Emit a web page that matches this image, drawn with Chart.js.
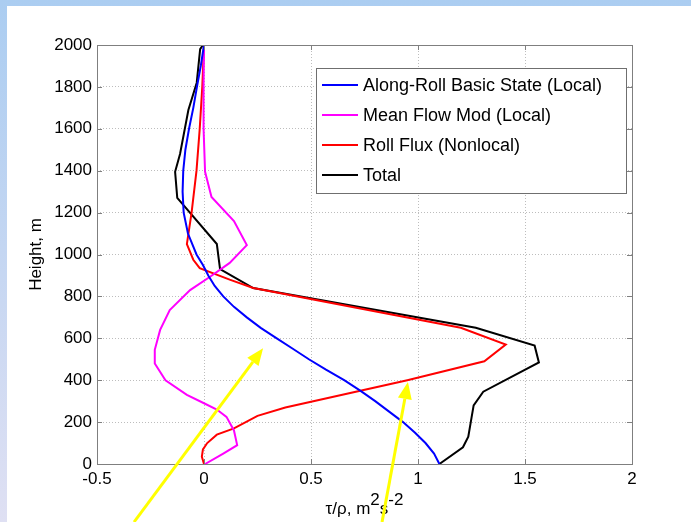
<!DOCTYPE html>
<html>
<head>
<meta charset="utf-8">
<title>Momentum flux profiles</title>
<script src="https://cdn.jsdelivr.net/npm/chart.js@4.4.1/dist/chart.umd.min.js"></script>
<style>
    html, body { margin: 0; padding: 0; width: 691px; height: 522px; overflow: hidden; }
    body { background: linear-gradient(to bottom, #abcdf1, #dfe0f3); position: relative; }
    .sheet { position: absolute; left: 7px; top: 6px; right: 0; bottom: 0; background: #ffffff; }
    #fluxChart { position: absolute; left: 0; top: 0; }
</style>
</head>
<body>
<div class="sheet"></div>
<canvas id="fluxChart" width="691" height="522"></canvas>

<script>
// 1. Profile data (tau/rho in m^2 s^-2 against height in m)
const xTicks = [-0.5, 0, 0.5, 1, 1.5, 2];
const yTicks = [0, 200, 400, 600, 800, 1000, 1200, 1400, 1600, 1800, 2000];

// 1.1 Along-Roll Basic State (Local)
const basicH = [0, 50, 100, 150, 200, 250, 300, 350, 400, 450, 500, 550, 600, 650, 700, 750, 800, 850, 900, 950, 1000, 1100, 1200, 1300, 1400, 1500, 1600, 1700, 1800, 1900, 2000];
const basicX = [1.10, 1.075, 1.035, 0.985, 0.93, 0.865, 0.80, 0.73, 0.655, 0.57, 0.49, 0.415, 0.34, 0.265, 0.20, 0.14, 0.09, 0.05, 0.02, -0.005, -0.035, -0.075, -0.095, -0.10, -0.097, -0.087, -0.07, -0.05, -0.033, -0.015, 0.0];

// 1.2 Mean Flow Mod (Local)
const meanH = [0, 50, 90, 160, 225, 260, 290, 330, 400, 480, 545, 640, 735, 830, 895, 960, 1045, 1160, 1275, 1395, 1600, 1800, 2000];
const meanX = [0.005, 0.09, 0.155, 0.14, 0.105, 0.06, 0.0, -0.08, -0.18, -0.23, -0.23, -0.205, -0.16, -0.065, 0.03, 0.12, 0.20, 0.14, 0.035, 0.005, -0.002, -0.002, 0.0];

// 1.3 Roll Flux (Nonlocal)
const rollH = [0, 35, 70, 100, 140, 170, 230, 270, 400, 490, 570, 650, 840, 880, 935, 975, 1050, 1200, 1400, 1600, 1800, 2000];
const rollX = [0.0, -0.01, -0.005, 0.015, 0.06, 0.14, 0.25, 0.38, 0.95, 1.31, 1.41, 1.20, 0.23, 0.12, -0.02, -0.05, -0.08, -0.058, -0.035, -0.02, -0.008, 0.0];

// 1.4 Total
const totalH = [0, 80, 130, 220, 280, 345, 485, 565, 650, 840, 930, 1050, 1270, 1395, 1480, 1690, 1820, 1980, 2000];
const totalX = [1.10, 1.21, 1.235, 1.25, 1.26, 1.305, 1.565, 1.545, 1.27, 0.23, 0.075, 0.06, -0.125, -0.135, -0.112, -0.073, -0.034, -0.018, -0.005];

// 1.5 yellow pointer arrows, [tailX, tailH, tipX, tipH] in data units
const pointerArrows = [
    [-0.327, -277, 0.276, 553],
    [0.832, -277, 0.953, 391]
];

const FONT = '"Liberation Sans", Arial, Helvetica, sans-serif';

// 2. Helper: zip heights and values into scatter points
function toPoints(heights, values) {
    return heights.map((h, i) => ({ x: values[i], y: h }));
}

// 3. Plugin: axes box, inward ticks, legend, titles and arrows
const decorPlugin = {
    id: 'decor',
    afterDraw(chart) {
        const ctx = chart.ctx;
        const area = chart.chartArea;
        const xs = chart.scales.x;
        const ys = chart.scales.y;

        ctx.save();

        // 3.1 axes box
        ctx.strokeStyle = '#7f7f7f';
        ctx.lineWidth = 1;
        ctx.strokeRect(Math.round(area.left) + 0.5, Math.round(area.top) + 0.5,
            Math.round(area.right - area.left), Math.round(area.bottom - area.top));

        // 3.2 inward tick marks on all four sides
        ctx.beginPath();
        xTicks.forEach(v => {
            const px = Math.round(xs.getPixelForValue(v)) + 0.5;
            ctx.moveTo(px, area.bottom); ctx.lineTo(px, area.bottom - 5);
            ctx.moveTo(px, area.top); ctx.lineTo(px, area.top + 5);
        });
        yTicks.forEach(v => {
            const py = Math.round(ys.getPixelForValue(v)) + 0.5;
            ctx.moveTo(area.left, py); ctx.lineTo(area.left + 5, py);
            ctx.moveTo(area.right, py); ctx.lineTo(area.right - 5, py);
        });
        ctx.stroke();

        // 3.3 legend box
        const lx = 316, ly = 68, lw = 310, lh = 125;
        ctx.fillStyle = '#ffffff';
        ctx.fillRect(lx, ly, lw, lh);
        ctx.strokeStyle = '#6f6f6f';
        ctx.strokeRect(lx + 0.5, ly + 0.5, lw, lh);
        ctx.font = '18px ' + FONT;
        ctx.textBaseline = 'middle';
        ctx.textAlign = 'left';
        chart.data.datasets.forEach((ds, i) => {
            const rowY = ly + 17 + i * 30;
            ctx.strokeStyle = ds.borderColor;
            ctx.lineWidth = 2;
            ctx.beginPath();
            ctx.moveTo(lx + 6, rowY);
            ctx.lineTo(lx + 42, rowY);
            ctx.stroke();
            ctx.fillStyle = '#000000';
            ctx.fillText(ds.label, lx + 47, rowY + 1);
        });

        // 3.4 y axis title
        ctx.fillStyle = '#000000';
        ctx.font = '17px ' + FONT;
        ctx.save();
        ctx.translate(36, (area.top + area.bottom) / 2);
        ctx.rotate(-Math.PI / 2);
        ctx.textAlign = 'center';
        ctx.textBaseline = 'middle';
        ctx.fillText('Height, m', 0, 0);
        ctx.restore();

        // 3.5 x axis title with superscripts
        const parts = [['τ/ρ, m', 0], ['2', -9], ['s', 0], ['-2', -9]];
        ctx.textAlign = 'left';
        ctx.textBaseline = 'alphabetic';
        const total = parts.reduce((s, p) => s + ctx.measureText(p[0]).width, 0);
        let tx = (area.left + area.right) / 2 - total / 2;
        parts.forEach(p => {
            ctx.fillText(p[0], tx, 514 + p[1]);
            tx += ctx.measureText(p[0]).width;
        });

        // 3.6 yellow arrows
        ctx.strokeStyle = '#ffff00';
        ctx.fillStyle = '#ffff00';
        ctx.lineWidth = 3;
        pointerArrows.forEach(a => {
            const x0 = xs.getPixelForValue(a[0]), y0 = ys.getPixelForValue(a[1]);
            const x1 = xs.getPixelForValue(a[2]), y1 = ys.getPixelForValue(a[3]);
            const ang = Math.atan2(y1 - y0, x1 - x0);
            const headLen = 17, headHalf = 7;
            const bx = x1 - headLen * Math.cos(ang), by = y1 - headLen * Math.sin(ang);
            ctx.beginPath();
            ctx.moveTo(x0, y0);
            ctx.lineTo(bx, by);
            ctx.stroke();
            ctx.beginPath();
            ctx.moveTo(x1, y1);
            ctx.lineTo(bx + headHalf * Math.sin(ang), by - headHalf * Math.cos(ang));
            ctx.lineTo(bx - headHalf * Math.sin(ang), by + headHalf * Math.cos(ang));
            ctx.closePath();
            ctx.fill();
        });

        ctx.restore();
    }
};

// 4. Build the chart
const ctx = document.getElementById('fluxChart').getContext('2d');

new Chart(ctx, {
    type: 'scatter',
    data: {
        datasets: [
            { label: 'Along-Roll Basic State (Local)', data: toPoints(basicH, basicX), borderColor: '#0000ff' },
            { label: 'Mean Flow Mod (Local)', data: toPoints(meanH, meanX), borderColor: '#ff00ff' },
            { label: 'Roll Flux (Nonlocal)', data: toPoints(rollH, rollX), borderColor: '#ff0000' },
            { label: 'Total', data: toPoints(totalH, totalX), borderColor: '#000000' }
        ].map(ds => Object.assign(ds, {
            showLine: true,
            borderWidth: 2,
            pointRadius: 0,
            pointHoverRadius: 0,
            tension: 0,
            fill: false
        }))
    },
    options: {
        responsive: false,
        animation: false,
        devicePixelRatio: 1,
        layout: { padding: { left: 0, top: 45, right: 59, bottom: 0 } },
        plugins: {
            legend: { display: false },
            tooltip: { enabled: false }
        },
        scales: {
            x: {
                type: 'linear',
                min: -0.5,
                max: 2,
                afterBuildTicks: scale => { scale.ticks = xTicks.map(v => ({ value: v })); },
                afterFit: scale => { scale.height = 58; },
                ticks: {
                    color: '#000000',
                    padding: 5,
                    maxRotation: 0,
                    font: { family: FONT, size: 17 },
                    callback: v => String(v)
                },
                grid: {
                    color: ctx => (ctx.tick && (ctx.tick.value === -0.5 || ctx.tick.value === 2)) ? 'rgba(0,0,0,0)' : '#bdbdbd',
                    lineWidth: 1,
                    drawTicks: false
                },
                border: { display: false, dash: [1, 2] }
            },
            y: {
                type: 'linear',
                min: 0,
                max: 2000,
                afterBuildTicks: scale => { scale.ticks = yTicks.map(v => ({ value: v })); },
                afterFit: scale => { scale.width = 97; },
                ticks: {
                    color: '#000000',
                    padding: 5,
                    font: { family: FONT, size: 17 },
                    callback: v => String(v)
                },
                grid: {
                    color: ctx => (ctx.tick && (ctx.tick.value === 0 || ctx.tick.value === 2000)) ? 'rgba(0,0,0,0)' : '#bdbdbd',
                    lineWidth: 1,
                    drawTicks: false
                },
                border: { display: false, dash: [1, 2] }
            }
        }
    },
    plugins: [decorPlugin]
});
</script>
</body>
</html>
